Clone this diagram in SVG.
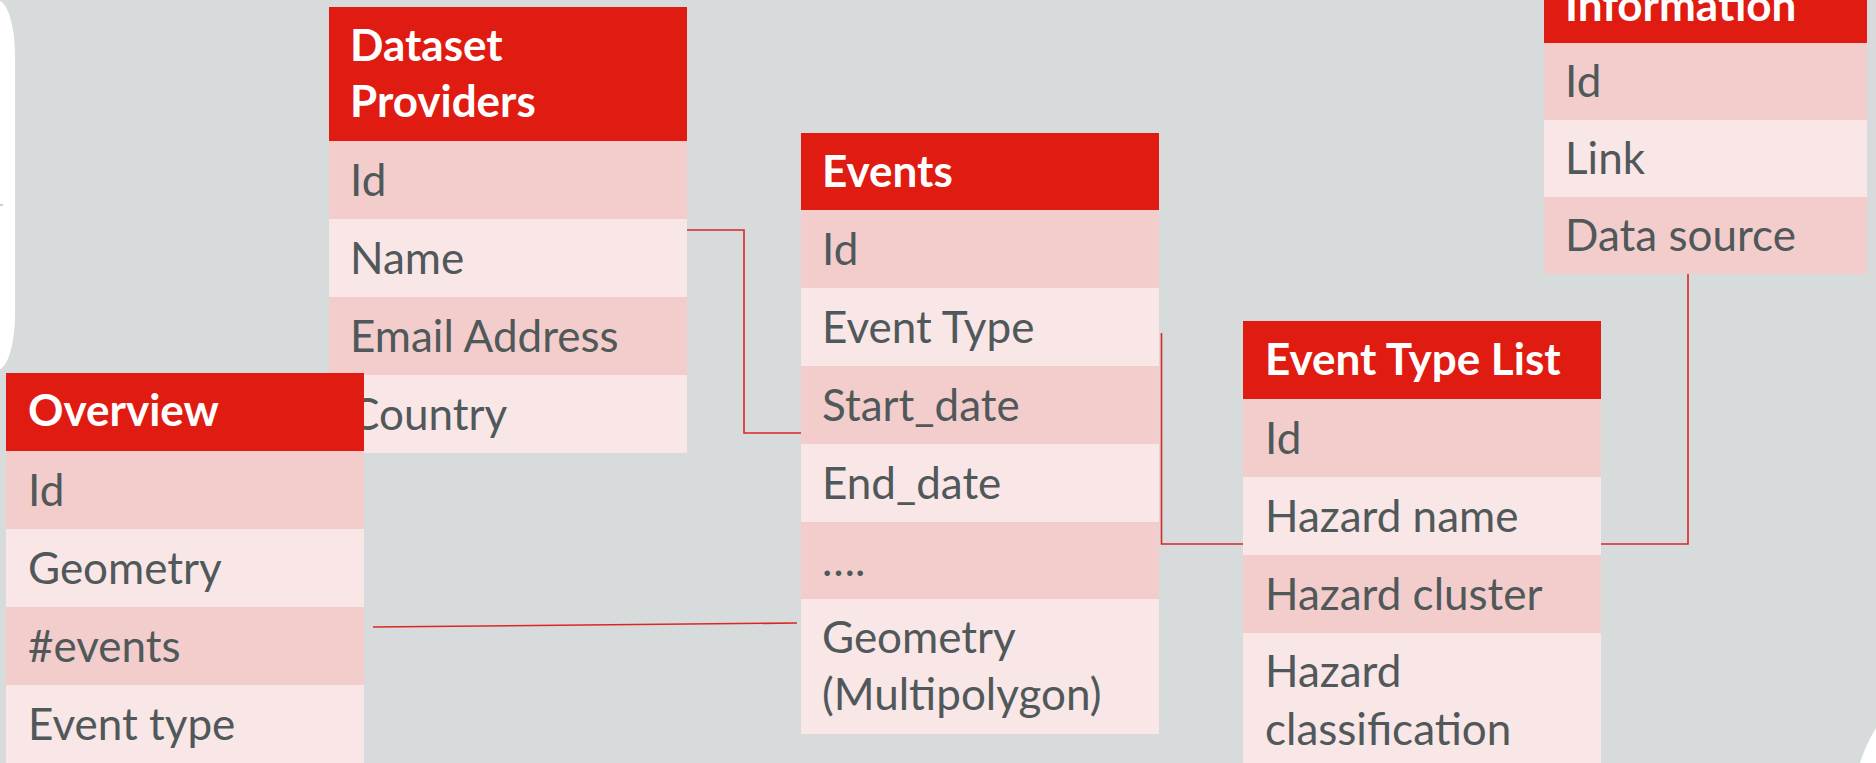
<svg xmlns="http://www.w3.org/2000/svg" width="1876" height="763" viewBox="0 0 1876 763">
  <style>
    .bg { fill: #D7DBDC; }
    .panel { fill: #FFFFFF; }
    .hdr { fill: #DF1B12; }
    .dark { fill: #F2CDCC; }
    .light { fill: #F9E6E6; }
    .ht { font-family: Lato, "Open Sans", sans-serif; font-weight: 700; font-size: 44px; fill: #FFFFFF; }
    .rt { font-family: Lato, "Open Sans", sans-serif; font-weight: 400; font-size: 44px; fill: #50585A; }
    .link { fill: none; stroke: #DC2626; stroke-width: 1.6; }
  </style>

  <rect class="bg" x="0" y="0" width="1876" height="763"/>

  <!-- slide panels peeking in at the edges -->
  <path class="panel" d="M-40,0 H-3 A18,55 0 0 1 15,55 V315 A18,55 0 0 1 -3,370 H-40 Z"/>
  <path class="panel" d="M1876,728 Q1866,744 1860,763 H1876 Z"/>
  <line x1="0" y1="205" x2="3" y2="205" stroke="#9AA0A3" stroke-width="1"/>

  <!-- relations -->
  <g id="connectors">
    <path class="link" d="M687,230 H744 V433 H801"/>
    <path class="link" d="M1161.5,333 V544 H1243"/>
    <path class="link" d="M1601,544 H1688 V274"/>
    <path class="link" d="M373,627 L797,623" stroke-width="2"/>
  </g>

  <g id="dataset-providers">
    <rect class="hdr" x="329" y="7" width="358" height="134"/>
    <text class="ht" x="350" y="61">Dataset</text>
    <text class="ht" x="350" y="117">Providers</text>
    <rect class="dark" x="329" y="141" width="358" height="78"/>
    <text class="rt" x="350" y="196">Id</text>
    <rect class="light" x="329" y="219" width="358" height="78"/>
    <text class="rt" x="350" y="274">Name</text>
    <rect class="dark" x="329" y="297" width="358" height="78"/>
    <text class="rt" x="350" y="352">Email Address</text>
    <rect class="light" x="329" y="375" width="358" height="78"/>
    <text class="rt" x="350" y="430">Country</text>
  </g>

  <g id="events">
    <rect class="hdr" x="801" y="133" width="358" height="77"/>
    <text class="ht" x="822" y="187">Events</text>
    <rect class="dark" x="801" y="210" width="358" height="78"/>
    <text class="rt" x="822" y="265">Id</text>
    <rect class="light" x="801" y="288" width="358" height="78"/>
    <text class="rt" x="822" y="343">Event Type</text>
    <rect class="dark" x="801" y="366" width="358" height="78"/>
    <text class="rt" x="822" y="421">Start_date</text>
    <rect class="light" x="801" y="444" width="358" height="78"/>
    <text class="rt" x="822" y="499">End_date</text>
    <rect class="dark" x="801" y="522" width="358" height="77"/>
    <text class="rt" x="822" y="576">….</text>
    <rect class="light" x="801" y="599" width="358" height="135"/>
    <text class="rt" x="822" y="653">Geometry</text>
    <text class="rt" x="822" y="710">(Multipolygon)</text>
  </g>

  <g id="event-type-list">
    <rect class="hdr" x="1243" y="321" width="358" height="78"/>
    <text class="ht" x="1265" y="375">Event Type List</text>
    <rect class="dark" x="1243" y="399" width="358" height="78"/>
    <text class="rt" x="1265" y="454">Id</text>
    <rect class="light" x="1243" y="477" width="358" height="78"/>
    <text class="rt" x="1265" y="532">Hazard name</text>
    <rect class="dark" x="1243" y="555" width="358" height="78"/>
    <text class="rt" x="1265" y="610">Hazard cluster</text>
    <rect class="light" x="1243" y="633" width="358" height="140"/>
    <text class="rt" x="1265" y="687">Hazard</text>
    <text class="rt" x="1265" y="745">classification</text>
  </g>

  <g id="information">
    <rect class="hdr" x="1544" y="-35" width="323" height="78"/>
    <text class="ht" x="1565" y="21">Information</text>
    <rect class="dark" x="1544" y="43" width="323" height="77"/>
    <text class="rt" x="1565" y="97">Id</text>
    <rect class="light" x="1544" y="120" width="323" height="77"/>
    <text class="rt" x="1565" y="174">Link</text>
    <rect class="dark" x="1544" y="197" width="323" height="77"/>
    <text class="rt" x="1565" y="251">Data source</text>
  </g>

  <g id="overview">
    <rect class="hdr" x="6" y="373" width="358" height="78"/>
    <text class="ht" x="28" y="426">Overview</text>
    <rect class="dark" x="6" y="451" width="358" height="78"/>
    <text class="rt" x="28" y="506">Id</text>
    <rect class="light" x="6" y="529" width="358" height="78"/>
    <text class="rt" x="28" y="584">Geometry</text>
    <rect class="dark" x="6" y="607" width="358" height="78"/>
    <text class="rt" x="28" y="662">#events</text>
    <rect class="light" x="6" y="685" width="358" height="78"/>
    <text class="rt" x="28" y="740">Event type</text>
  </g>
</svg>
